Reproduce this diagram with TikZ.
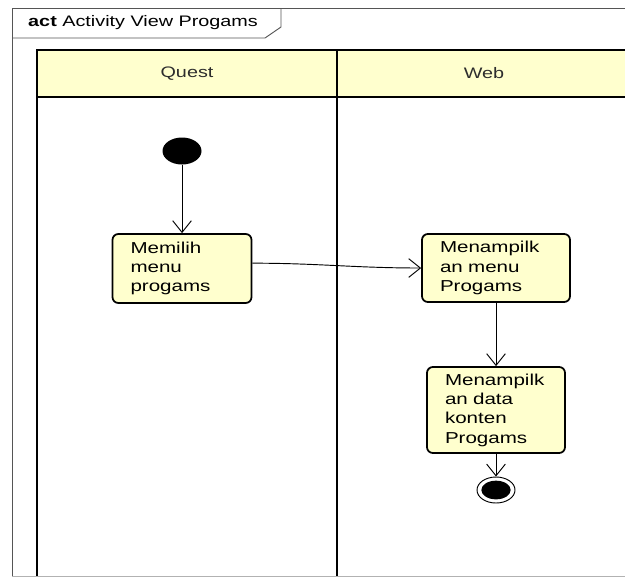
\documentclass[tikz,border=0pt]{standalone}
\usepackage{fontspec}
\setmainfont{Liberation Sans}[FakeStretch=1.3]
\usetikzlibrary{arrows.meta,shapes.geometric}
\definecolor{actyellow}{RGB}{255,255,206}
\definecolor{framegray}{RGB}{85,85,85}
\definecolor{lanetext}{RGB}{45,45,45}

\begin{document}
\begin{tikzpicture}[x=0.03cm,y=-0.03cm,
  actbox/.style={draw=black, line width=1.5pt, fill=actyellow, rounded corners=5pt,
    align=left, inner xsep=0.54cm, inner ysep=0pt, font=\fontsize{13.5}{16.5}\selectfont},
  lane/.style={line width=2.4pt, black},
  flow/.style={-{Straight Barb[length=10pt,width=16pt]}, line width=0.8pt, black}]
  \useasboundingbox (0,0) rectangle (625,577);
  % frame and its tab
  \draw [framegray, line width=0.8pt] (625,8) -- (12,8) -- (12,576);
  \draw [gray!60, line width=0.8pt] (12,576) -- (625,576);
  \draw [framegray, line width=0.8pt] (12,38) -- (265,38) -- (281,27) -- (281,8);
  \node (title) [anchor=west, inner sep=0pt, font=\fontsize{13}{15}\selectfont] at (28,23) {\textbf{act} Activity View Progams};
  % swimlanes
  \fill [actyellow] (37,50) rectangle (630,97);
  \draw [lane] (630,50) -- (37,50) -- (37,576);
  \draw [lane] (37,97) -- (630,97);
  \draw [lane] (337,50) -- (337,576);
  \node (quest) [lanetext, font=\fontsize{13}{15}\selectfont] at (187,73.5) {Quest};
  \node (web) [lanetext, font=\fontsize{13}{15}\selectfont] at (484,73.5) {Web};
  % actions
  \node (start) [ellipse, fill=black, minimum width=1.17cm, minimum height=0.81cm, inner sep=0pt] at (182,151) {};
  \node (choose) [actbox, text width=3.09cm, minimum height=2.07cm] at (182,268.5) {Memilih\\menu\\progams};
  \node (showmenu) [actbox, text width=3.36cm, minimum height=2.04cm] at (496,268) {Menampilk\\an menu\\Progams};
  \node (showdata) [actbox, text width=3.06cm, minimum height=2.58cm] at (496,410) {Menampilk\\an data\\konten\\Progams};
  \node (end) [ellipse, draw=black, line width=0.8pt, fill=white, minimum width=1.14cm, minimum height=0.78cm, inner sep=0pt] at (496,490) {};
  \fill [black] (end.center) ellipse (0.44cm and 0.28cm);
  % flows
  \draw [flow] (start) -- (choose);
  \draw [flow] ([yshift=0.16cm]choose.east) to[out=0,in=180] (showmenu.west);
  \draw [flow] (showmenu) -- (showdata);
  \draw [flow] (showdata) -- (end);
\end{tikzpicture}
\end{document}
